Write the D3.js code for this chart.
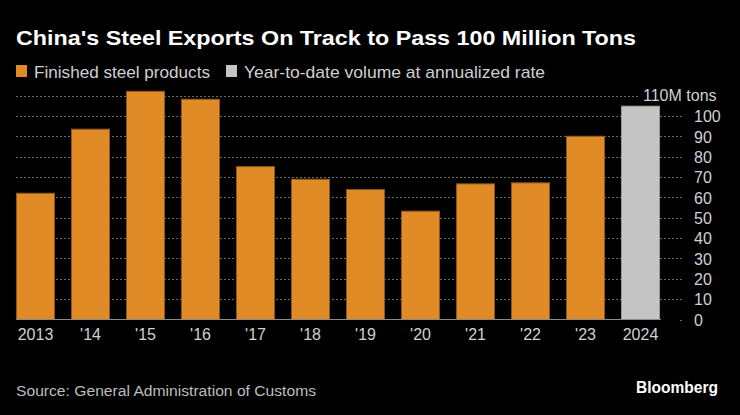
<!DOCTYPE html>
<html><head><meta charset="utf-8">
<script src="https://cdn.jsdelivr.net/npm/d3@7"></script>
<style>html,body{margin:0;padding:0;background:#000;}svg{display:block;}</style>
</head><body>
<script>
const categories = ["2013","'14","'15","'16","'17","'18","'19","'20","'21","'22","'23","2024"];
const values = [62.3, 93.8, 112.4, 108.5, 75.4, 69.2, 64.1, 53.5, 66.9, 67.4, 90.3, 105.1];
const seriesKind = ["f","f","f","f","f","f","f","f","f","f","f","y"];
const yTicks = [0,10,20,30,40,50,60,70,80,90,100];
const legendLabels = ["Finished steel products", "Year-to-date volume at annualized rate"];
const titleText = "China's Steel Exports On Track to Pass 100 Million Tons";
const sourceText = "Source: General Administration of Customs";
const topLabel = "110M tons";

const W = 740, H = 415;
const ORANGE = "#E08B26", GRAY = "#C4C4C4";
const font = "'Liberation Sans', Arial, sans-serif";

const svg = d3.select("body").append("svg").attr("width", W).attr("height", H)
  .style("background", "#000").style("font-family", font);

const x = d3.scaleBand().domain(categories).range([8, 668]).paddingInner(0.29).paddingOuter(0.145);
const y = d3.scaleLinear().domain([0, 110]).range([319.5, 95.7]);

// title
svg.append("text").attr("x", 16).attr("y", 45).text(titleText)
  .attr("fill", "#fff").attr("font-weight", "bold").attr("font-size", 21)
  .attr("textLength", 620).attr("lengthAdjust", "spacingAndGlyphs");

// legend
const leg = [{x:16, c:ORANGE, w:176}, {x:226, c:GRAY, w:301}];
leg.forEach((l, i) => {
  svg.append("rect").attr("x", l.x).attr("y", 65).attr("width", 11).attr("height", 12).attr("fill", l.c);
  svg.append("text").attr("x", l.x + 18).attr("y", 78).text(legendLabels[i])
    .attr("fill", "#d0d0d0").attr("font-size", 17)
    .attr("textLength", l.w).attr("lengthAdjust", "spacingAndGlyphs");
});

// gridlines
const gridTicks = yTicks.filter(t => t > 0);
svg.append("g").selectAll("line").data(gridTicks).join("line")
  .attr("x1", 16).attr("x2", 683)
  .attr("y1", d => Math.round(y(d)) + 0.5).attr("y2", d => Math.round(y(d)) + 0.5)
  .attr("stroke", "#6a6a6a").attr("stroke-width", 1).attr("stroke-dasharray", "2,2");
svg.append("line").attr("x1", 16).attr("x2", 640)
  .attr("y1", Math.round(y(110)) + 0.5).attr("y2", Math.round(y(110)) + 0.5)
  .attr("stroke", "#6a6a6a").attr("stroke-width", 1).attr("stroke-dasharray", "2,2");
svg.append("line").attr("x1", 680).attr("x2", 682)
  .attr("y1", Math.round(y(0)) + 0.5).attr("y2", Math.round(y(0)) + 0.5)
  .attr("stroke", "#6a6a6a");

// bars
svg.append("g").selectAll("rect").data(categories).join("rect")
  .attr("x", d => x(d) + 0.5)
  .attr("y", (d, i) => y(values[i]) + 0.5)
  .attr("width", x.bandwidth() - 1)
  .attr("height", (d, i) => y(0) - y(values[i]) - 0.5)
  .attr("fill", (d, i) => seriesKind[i] === "y" ? GRAY : ORANGE)
  .attr("stroke", (d, i) => seriesKind[i] === "y" ? "#9a9a9a" : "#8a5a20")
  .attr("stroke-width", 1);

// baseline
svg.append("line").attr("x1", 16).attr("x2", 661)
  .attr("y1", y(0)).attr("y2", y(0)).attr("stroke", "#8a8a8a").attr("stroke-width", 1.2);

// y axis labels (right)
const yAxis = d3.axisRight(y).tickValues(yTicks).tickSize(0).tickPadding(0);
const gy = svg.append("g").attr("transform", "translate(694,0)").call(yAxis);
gy.select(".domain").remove();
gy.selectAll("text").attr("fill", "#d0d0d0").attr("font-size", 16).attr("font-family", font)
  .attr("dy", "0.36em").attr("x", 0).attr("text-anchor", "start");

svg.append("text").attr("x", 643).attr("y", y(110) + 5.5).text(topLabel)
  .attr("fill", "#d0d0d0").attr("font-size", 16);

// x axis labels
const xAxis = d3.axisBottom(x).tickSize(0).tickPadding(0);
const gx = svg.append("g").attr("transform", "translate(0,329)").call(xAxis);
gx.select(".domain").remove();
gx.selectAll("text").attr("fill", "#d0d0d0").attr("font-size", 16).attr("font-family", font)
  .attr("dy", "0.71em");

// footer
svg.append("text").attr("x", 16).attr("y", 396).text(sourceText)
  .attr("fill", "#bdbdbd").attr("font-size", 15.5)
  .attr("textLength", 300).attr("lengthAdjust", "spacingAndGlyphs");
svg.append("text").attr("x", 718).attr("y", 393).text("Bloomberg")
  .attr("text-anchor", "end").attr("fill", "#fff").attr("font-weight", "bold")
  .attr("font-size", 16).attr("textLength", 82).attr("lengthAdjust", "spacingAndGlyphs");
</script>
</body></html>
